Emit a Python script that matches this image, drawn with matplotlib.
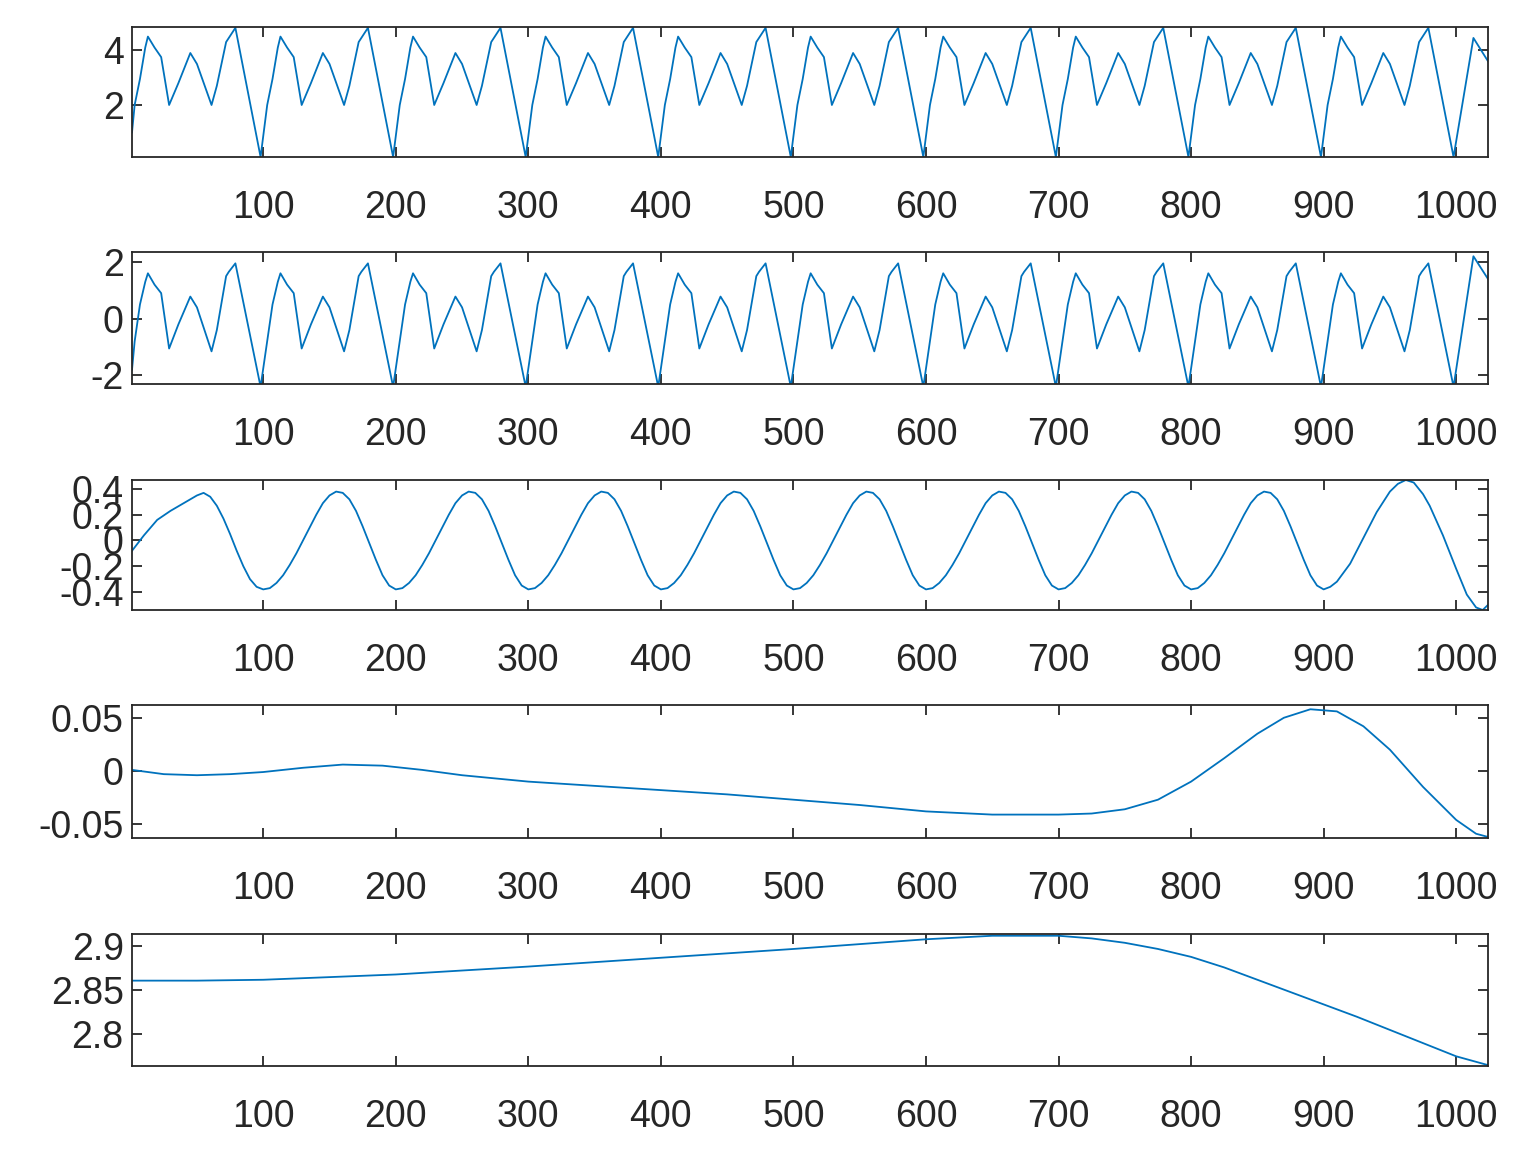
import numpy as np
import matplotlib
matplotlib.use("Agg")
import matplotlib.pyplot as plt

plt.rcParams['font.family'] = ['Liberation Sans', 'DejaVu Sans']

# one-period vertex templates (offset within period, value)
imf1_dx = [-2, 3, 7, 11, 13, 18, 23, 29, 36, 45, 50, 61, 65, 72, 74, 79]
imf1_y  = [0.1, 2.0, 2.95, 4.1, 4.5, 4.1, 3.75, 2.0, 2.8, 3.9, 3.5, 2.0, 2.7, 4.3, 4.45, 4.82]
imf2_y  = [-2.4, -0.8, 0.5, 1.3, 1.6, 1.2, 0.9, -1.05, -0.2, 0.78, 0.4, -1.15, -0.4, 1.5, 1.65, 1.95]
period_starts = [0, 100, 200, 300, 400, 500, 600, 700, 800, 900]
imf1_start, imf2_start = 1.0, -1.8
imf1_tail_x, imf1_tail_y = [998, 1013, 1024], [0.1, 4.45, 3.6]
imf2_tail_x, imf2_tail_y = [998, 1013, 1024], [-2.4, 2.2, 1.4]

imf3_x = [1, 10, 20, 30, 40, 50, 55, 60, 65, 70, 75, 80, 85, 90, 95]
imf3_y = [-0.08, 0.04, 0.16, 0.23, 0.29, 0.35, 0.37, 0.34, 0.27, 0.17, 0.05, -0.08, -0.2, -0.3, -0.36]
imf3_dx = [0, 5, 10, 15, 20, 25, 30, 35, 40, 45, 50, 55, 60, 65, 70, 75, 80, 85, 90, 95]
imf3_py = [-0.38, -0.37, -0.33, -0.27, -0.19, -0.1, -0.0, 0.1, 0.2, 0.29, 0.35, 0.38, 0.37, 0.32, 0.23,
           0.11, -0.02, -0.15, -0.27, -0.35]
imf3_tail_x = [900, 905, 910, 920, 930, 940, 950, 956, 962, 968, 975, 980, 990, 1000, 1008, 1015, 1020, 1024]
imf3_tail_y = [-0.38, -0.36, -0.32, -0.18, 0.02, 0.22, 0.38, 0.44, 0.47, 0.45, 0.36, 0.27, 0.04, -0.22, -0.42, -0.52, -0.54, -0.5]

imf4_x = [1, 25, 50, 75, 100, 130, 160, 190, 220, 250, 300, 350, 400, 450, 500, 550, 600, 650, 700,
          725, 750, 775, 800, 825, 850, 870, 890, 910, 930, 950, 975, 1000, 1015, 1024]
imf4_y = [0.001, -0.003, -0.004, -0.003, -0.001, 0.003, 0.006, 0.005, 0.001, -0.004, -0.01, -0.014,
          -0.018, -0.022, -0.027, -0.032, -0.038, -0.041, -0.041, -0.040, -0.036, -0.027, -0.01,
          0.012, 0.035, 0.05, 0.058, 0.056, 0.042, 0.02, -0.015, -0.046, -0.059, -0.062]

res_x = [1, 50, 100, 200, 300, 400, 500, 600, 650, 700, 725, 750, 775, 800, 825, 850, 875, 900,
         925, 950, 975, 1000, 1024]
res_y = [2.861, 2.861, 2.862, 2.868, 2.877, 2.887, 2.897, 2.908, 2.912, 2.912, 2.909, 2.904, 2.897,
         2.888, 2.876, 2.862, 2.848, 2.834, 2.82, 2.805, 2.79, 2.775, 2.765]

def build(start, dx, ys, tx, ty):
    xs, vs = [1], [start]
    for p in period_starts:
        for d, v in zip(dx, ys):
            if p + d >= 1:
                xs.append(p + d); vs.append(v)
    return xs + tx, vs + ty

x1, y1 = build(imf1_start, imf1_dx, imf1_y, imf1_tail_x, imf1_tail_y)
x2, y2 = build(imf2_start, imf1_dx, imf2_y, imf2_tail_x, imf2_tail_y)
x3, y3 = list(imf3_x), list(imf3_y)
for p in period_starts[1:-1]:
    for d, v in zip(imf3_dx, imf3_py):
        x3.append(p + d); y3.append(v)
x3 += imf3_tail_x; y3 += imf3_tail_y

series = [(x1, y1), (x2, y2), (x3, y3), (imf4_x, imf4_y), (res_x, res_y)]
ylims = [(0.1, 4.85), (-2.3, 2.35), (-0.54, 0.47), (-0.063, 0.062), (2.764, 2.914)]
yticks = [[2, 4], [-2, 0, 2], [-0.4, -0.2, 0, 0.2, 0.4], [-0.05, 0, 0.05], [2.8, 2.85, 2.9]]
ylabels = [["2", "4"], ["-2", "0", "2"], ["-0.4", "-0.2", "0", "0.2", "0.4"],
           ["-0.05", "0", "0.05"], ["2.8", "2.85", "2.9"]]
xticks = [100, 200, 300, 400, 500, 600, 700, 800, 900, 1000]

fig = plt.figure(figsize=(15.22, 11.66), dpi=100)
W, H = 1522, 1166
tops = [27, 252, 480, 705, 934]
bots = [157, 384, 610, 838, 1066]
for i, (xs, ys) in enumerate(series):
    ax = fig.add_axes([132 / W, 1 - bots[i] / H, (1488 - 132) / W, (bots[i] - tops[i]) / H])
    ax.plot(xs, ys, color='#0072BD', lw=1.3)
    ax.set_xlim(1, 1024)
    ax.set_ylim(*ylims[i])
    ax.set_yticks(yticks[i])
    ax.set_yticklabels(ylabels[i])
    ax.set_xticks(xticks)
    ax.tick_params(direction='in', length=7, width=1.3, labelsize=27, top=True, right=True,
                   colors='#262626')
    ax.tick_params(axis='x', pad=24)
    ax.tick_params(axis='y', pad=6)
    for s in ax.spines.values():
        s.set_linewidth(1.3)
        s.set_color('#262626')

fig.savefig("out.png", dpi=100)
